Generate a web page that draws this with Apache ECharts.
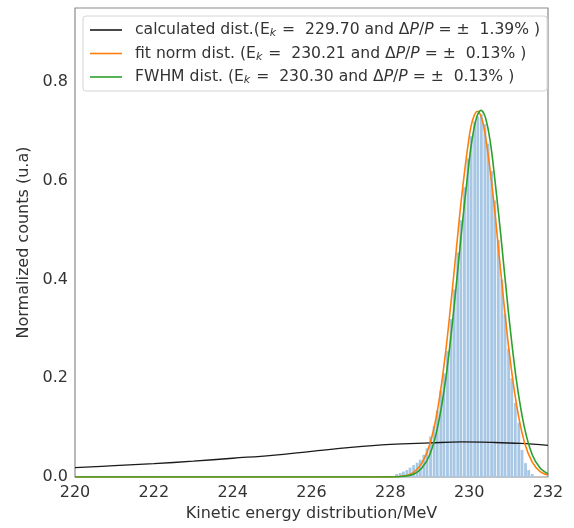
<!DOCTYPE html>
<html>
<head>
<meta charset="utf-8">
<script src="https://cdn.jsdelivr.net/npm/echarts@6/dist/echarts.min.js"></script>
<style>html,body{margin:0;padding:0;background:#fff}#c{width:574px;height:528px}</style>
</head>
<body>
<div id="c"></div>
<script>
// ---- data ----
const xTickValues = [220, 222, 224, 226, 228, 230, 232];
const yTickValues = [0.0, 0.2, 0.4, 0.6, 0.8];

const histCenters = [228.16, 228.25, 228.33, 228.42, 228.50, 228.59, 228.68, 228.76, 228.85, 228.93,
  229.02, 229.11, 229.19, 229.28, 229.36, 229.45, 229.54, 229.62, 229.71, 229.79,
  229.88, 229.97, 230.05, 230.14, 230.22, 230.31, 230.40, 230.48, 230.57, 230.65,
  230.74, 230.83, 230.91, 231.00, 231.08, 231.17, 231.26, 231.34, 231.43, 231.51, 231.60];
const histCounts = [0.006, 0.008, 0.011, 0.014, 0.019, 0.024, 0.029, 0.035, 0.045, 0.058,
  0.082, 0.103, 0.135, 0.175, 0.21, 0.255, 0.32, 0.38, 0.455, 0.52,
  0.587, 0.645, 0.69, 0.72, 0.73, 0.735, 0.715, 0.675, 0.62, 0.56,
  0.48, 0.40, 0.33, 0.26, 0.20, 0.15, 0.11, 0.055, 0.028, 0.014, 0.006];

const calcX = [220, 221, 222, 223, 224, 225, 226, 227, 228, 229, 229.8, 230.6, 231.3, 232];
const calcY = [0.019, 0.023, 0.027, 0.032, 0.038, 0.044, 0.052, 0.060, 0.066, 0.069, 0.071, 0.070, 0.068, 0.064];

const fitX = [220, 222, 224, 226, 227, 227.6, 228.0, 228.4, 228.6, 228.8, 229.0, 229.2, 229.4, 229.6, 229.8,
  230.0, 230.1, 230.21, 230.3, 230.4, 230.6, 230.8, 231.0, 231.2, 231.4, 231.6, 231.8, 232.0];
const fitY = [0, 0, 0, 0, 0, 0, 0.0002, 0.003, 0.010, 0.028, 0.066, 0.137, 0.251, 0.401, 0.561,
  0.689, 0.726, 0.741, 0.731, 0.698, 0.576, 0.417, 0.264, 0.147, 0.071, 0.030, 0.011, 0.004];

const fwhmX = [220, 222, 224, 226, 227, 227.6, 228.0, 228.4, 228.6, 228.8, 229.0, 229.2, 229.4, 229.6, 229.8,
  230.0, 230.1, 230.2, 230.3, 230.4, 230.5, 230.6, 230.8, 231.0, 231.2, 231.4, 231.6, 231.8, 232.0];
const fwhmY = [0, 0, 0, 0, 0, 0, 0.0001, 0.002, 0.006, 0.018, 0.045, 0.101, 0.195, 0.331, 0.492,
  0.640, 0.696, 0.731, 0.743, 0.731, 0.696, 0.640, 0.492, 0.331, 0.195, 0.101, 0.045, 0.018, 0.006];

const legendNames = ['calc', 'fit', 'fwhm'];
const legendTexts = {
  calc: 'calculated dist.(E{sub|k}{n| =  229.70 and Δ}{it|P}{n|/}{it|P}{n| = ±  1.39% )}',
  fit: 'fit norm dist. (E{sub|k}{n| =  230.21 and Δ}{it|P}{n|/}{it|P}{n| = ±  0.13% )}',
  fwhm: 'FWHM dist. (E{sub|k}{n| =  230.30 and Δ}{it|P}{n|/}{it|P}{n| = ±  0.13% )}'
};

const zip = (a, b) => a.map((v, i) => [v, b[i]]);
const FONT = 'DejaVu Sans';
const TXT = '#333333';
const LFS = 15.6;

const chart = echarts.init(document.getElementById('c'), null, {renderer: 'canvas'});
chart.setOption({
  animation: false,
  textStyle: {fontFamily: FONT},
  grid: {left: 75, right: 26, top: 8, bottom: 51, show: true, borderColor: '#8a8a8a', borderWidth: 1.2, backgroundColor: '#fff'},
  xAxis: {
    type: 'value', min: 220, max: 232, interval: 2,
    axisLine: {show: false}, axisTick: {show: false}, splitLine: {show: false},
    axisLabel: {color: TXT, fontSize: 16, fontFamily: FONT, margin: 8,
      formatter: v => xTickValues.includes(v) ? String(v) : ''},
    name: 'Kinetic energy distribution/MeV', nameLocation: 'middle', nameGap: 26,
    nameTextStyle: {color: TXT, fontSize: 16, fontFamily: FONT}
  },
  yAxis: {
    type: 'value', min: 0, max: 0.95, interval: 0.2,
    axisLine: {show: false}, axisTick: {show: false}, splitLine: {show: false},
    axisLabel: {color: TXT, fontSize: 16, fontFamily: FONT, margin: 7, showMaxLabel: false,
      formatter: v => yTickValues.some(t => Math.abs(t - v) < 1e-9) ? v.toFixed(1) : ''},
    name: 'Normalized counts (u.a)', nameLocation: 'middle', nameGap: 42,
    nameTextStyle: {color: TXT, fontSize: 16, fontFamily: FONT}
  },
  legend: {
    data: legendNames, orient: 'vertical', left: 83, top: 16,
    padding: [5, 7, 5, 7], itemGap: 5.5, itemWidth: 32, itemHeight: 1.6, icon: 'rect',
    backgroundColor: 'rgba(255,255,255,0.85)', borderColor: '#d4d4d4', borderWidth: 1, borderRadius: 3,
    formatter: name => legendTexts[name],
    textStyle: {
      color: TXT, fontSize: LFS, fontFamily: FONT, lineHeight: 18, padding: [0, 0, 0, 8],
      rich: {
        n: {color: TXT, fontSize: LFS, fontFamily: FONT, lineHeight: 18},
        it: {color: TXT, fontSize: LFS, fontFamily: FONT, fontStyle: 'italic', lineHeight: 18},
        sub: {color: TXT, fontSize: 11, fontFamily: FONT, fontStyle: 'italic', verticalAlign: 'bottom', lineHeight: 18, padding: [6, 1, 0, 0]}
      }
    }
  },
  series: [
    {
      name: 'hist', type: 'bar', data: zip(histCenters, histCounts), barWidth: 2.8,
      itemStyle: {color: '#a7c7e5'}, z: 1, silent: true
    },
    {
      name: 'calc', type: 'line', data: zip(calcX, calcY), smooth: 0.4, showSymbol: false, symbol: 'none',
      lineStyle: {color: '#1a1a1a', width: 1.3}, itemStyle: {color: '#1a1a1a'}, z: 3
    },
    {
      name: 'fit', type: 'line', data: zip(fitX, fitY), smooth: 0.3, showSymbol: false, symbol: 'none',
      lineStyle: {color: '#ff7f0e', width: 1.6}, itemStyle: {color: '#ff7f0e'}, z: 4
    },
    {
      name: 'fwhm', type: 'line', data: zip(fwhmX, fwhmY), smooth: 0.3, showSymbol: false, symbol: 'none',
      lineStyle: {color: '#2ca02c', width: 1.6}, itemStyle: {color: '#2ca02c'}, z: 5
    }
  ]
});
</script>
</body>
</html>
